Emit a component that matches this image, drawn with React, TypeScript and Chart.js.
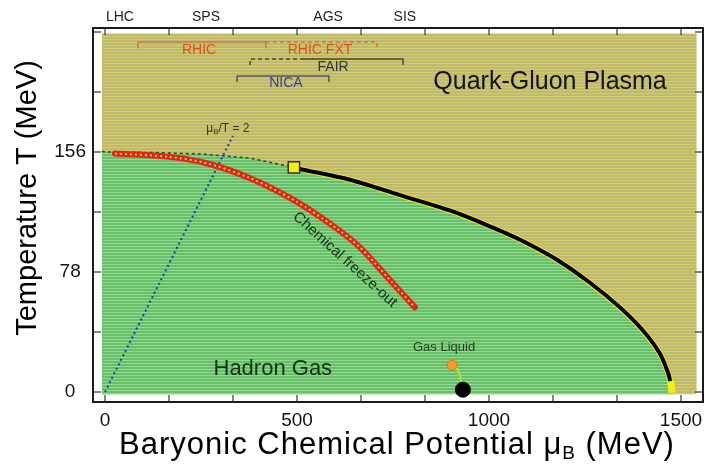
import React, { useEffect, useRef } from "react";
import { Chart, registerables } from "chart.js";

Chart.register(...registerables);

type P = { x: number; y: number };
const pts = (a: number[][]): P[] => a.map(([x, y]) => ({ x, y }));

// ---- axes ----
const X_MIN = -31.25;
const X_MAX = 1557.3;
const Y_MIN = -6.5;
const Y_MAX = 236.6;
const X_TICKS = [0, 166.67, 333.33, 500, 666.67, 833.33, 1000, 1166.67, 1333.33, 1500];
const X_LABELED = [0, 500, 1000, 1500];
const Y_TICKS = [0, 39, 78, 117, 156, 195, 234];
const Y_LABELED = [0, 78, 156];

// ---- filled regions (MeV) ----
const FILL_MU = [-8, 1541];
const FILL_T = [-1.5, 233];

// ---- phase diagram curves: [muB, T] ----
const CROSSOVER = [[-8, 156.5], [0, 156], [120, 155.7], [247, 154.7], [378, 152], [492, 146]];
const FIRST_ORDER = [[492, 146], [508, 145], [638, 138], [768, 128], [898, 118], [990, 109], [1081, 99], [1177, 86], [1263, 71], [1341, 55], [1401, 40], [1445, 25], [1467, 12], [1472, 7]];
const FIRST_ORDER_END = [[1473, 7], [1477, -0.5]];
const GREEN_TAIL = [[1477, 0], [1479, -1.5]];
const FREEZE_OUT = [[26, 155], [161, 153], [260, 149], [378, 139], [490, 125], [594, 108], [664, 94], [734, 75], [807, 55]];
const MU_OVER_T_2 = [[0, 0], [333, 166.5]];
const CRITICAL_POINT = [[492, 146]];
const GL_CRITICAL = [[904, 17.5]];
const NUCLEAR_MATTER = [[932, 1.5]];
const GL_LINE = [[904, 17.5], [916, 15.5], [924, 11], [928, 5], [930, 2]];

// ---- facility ranges ----
const RHIC = [[86, 223.5], [86, 227.5], [419, 227.5], [419, 223.5]];
const RHIC_FXT = [[419, 227.5], [708, 227.5], [708, 223.5]];
const FAIR_DASHED = [[378, 212.5], [378, 216.5], [510, 216.5]];
const FAIR_SOLID = [[510, 216.5], [776, 216.5], [776, 212.5]];
const NICA = [[344, 201.5], [344, 205.4], [583, 205.4], [583, 201.5]];

const ACCELERATORS = ["LHC", "SPS", "AGS", "SIS"];
const ACCELERATOR_MU = [39, 263, 581, 781];

const FONT = "Liberation Sans, Arial, sans-serif";

function stripes(ctx: CanvasRenderingContext2D, base: string, line: string, period: number) {
  const c = document.createElement("canvas");
  c.width = 4;
  c.height = period;
  const g = c.getContext("2d")!;
  g.fillStyle = base;
  g.fillRect(0, 0, 4, period);
  g.fillStyle = line;
  g.fillRect(0, 0, 4, 1);
  return ctx.createPattern(c, "repeat")!;
}

const decor = {
  id: "decor",
  afterDatasetsDraw(chart: any) {
    const { ctx, chartArea: a, scales } = chart;
    const x = scales.x;
    const y = scales.y;
    const X = (v: number) => x.getPixelForValue(v);
    const Y = (v: number) => y.getPixelForValue(v);
    const seg = (x1: number, y1: number, x2: number, y2: number) => {
      ctx.beginPath();
      ctx.moveTo(x1, y1);
      ctx.lineTo(x2, y2);
      ctx.stroke();
    };
    ctx.save();
    // frame
    ctx.strokeStyle = "#1a1a1a";
    ctx.lineWidth = 2;
    ctx.strokeRect(a.left, a.top, a.right - a.left, a.bottom - a.top);
    // inner tick marks
    ctx.lineWidth = 1.2;
    ctx.strokeStyle = "#333";
    x.ticks.forEach((t: any) => {
      const px = X(t.value);
      seg(px, a.bottom, px, a.bottom - 7);
      seg(px, a.top, px, a.top + 7);
    });
    y.ticks.forEach((t: any) => {
      const py = Y(t.value);
      seg(a.left, py, a.left + 8, py);
      seg(a.right, py, a.right - 8, py);
    });

    ctx.textAlign = "center";
    ctx.textBaseline = "middle";
    // accelerators above the frame
    ctx.fillStyle = "#222";
    ctx.font = `14px ${FONT}`;
    ACCELERATORS.forEach((s, i) => ctx.fillText(s, X(ACCELERATOR_MU[i]), a.top - 11));

    // facility labels
    ctx.font = `14px ${FONT}`;
    ctx.fillStyle = "#e0501e";
    ctx.fillText("RHIC", X(245), Y(222.5));
    ctx.fillText("RHIC FXT", X(560), Y(222.5));
    ctx.fillStyle = "#333";
    ctx.fillText("FAIR", X(594), Y(211));
    ctx.fillStyle = "#3c3ca0";
    ctx.fillText("NICA", X(471), Y(200.5));

    // region labels
    ctx.fillStyle = "#111";
    ctx.font = `25px ${FONT}`;
    ctx.fillText("Quark-Gluon Plasma", X(1159), Y(201.5));
    ctx.fillStyle = "#15301a";
    ctx.font = `22px ${FONT}`;
    ctx.fillText("Hadron Gas", X(437), Y(15));

    // Gas Liquid
    ctx.fillStyle = "#234023";
    ctx.font = `13px ${FONT}`;
    ctx.fillText("Gas Liquid", X(883), Y(29));

    // muB/T = 2
    ctx.fillStyle = "#333";
    ctx.textAlign = "left";
    const m1 = "\u03bc";
    const m3 = "/T = 2";
    ctx.font = `12px ${FONT}`;
    const w1 = ctx.measureText(m1).width;
    const w3 = ctx.measureText(m3).width;
    ctx.font = `8px ${FONT}`;
    const w2 = ctx.measureText("B").width;
    const sx = X(320) - (w1 + w2 + w3) / 2;
    const sy = Y(171);
    ctx.font = `12px ${FONT}`;
    ctx.fillText(m1, sx, sy);
    ctx.font = `8px ${FONT}`;
    ctx.fillText("B", sx + w1, sy + 3);
    ctx.font = `12px ${FONT}`;
    ctx.fillText(m3, sx + w1 + w2, sy);

    // Chemical freeze-out (rotated)
    ctx.save();
    ctx.translate(X(625), Y(86));
    ctx.rotate((42 * Math.PI) / 180);
    ctx.textAlign = "center";
    ctx.fillStyle = "#1a2e1a";
    ctx.font = `15px ${FONT}`;
    ctx.fillText("Chemical freeze-out", 0, 0);
    ctx.restore();
    ctx.restore();
  },
  afterDraw(chart: any) {
    const { ctx } = chart;
    ctx.save();
    ctx.fillStyle = "#000";
    ctx.textBaseline = "middle";
    // y title
    ctx.save();
    ctx.translate(28, 198);
    ctx.rotate(-Math.PI / 2);
    ctx.textAlign = "center";
    ctx.font = `29px ${FONT}`;
    ctx.fillText("Temperature T (MeV)", 0, 0);
    ctx.restore();
    // x title with subscript
    ctx.textAlign = "left";
    try {
      (ctx as any).letterSpacing = "1px";
    } catch (e) {}
    const p1 = "Baryonic Chemical Potential \u03bc";
    const p3 = " (MeV)";
    ctx.font = `31px ${FONT}`;
    const w1 = ctx.measureText(p1).width;
    const w3 = ctx.measureText(p3).width;
    ctx.font = `19px ${FONT}`;
    const w2 = ctx.measureText("B").width;
    const cx = 397;
    const sx = cx - (w1 + w2 + w3) / 2;
    const sy = 445;
    ctx.font = `31px ${FONT}`;
    ctx.fillText(p1, sx, sy);
    ctx.font = `19px ${FONT}`;
    ctx.fillText("B", sx + w1, sy + 9);
    ctx.font = `31px ${FONT}`;
    ctx.fillText(p3, sx + w1 + w2, sy);
    try {
      (ctx as any).letterSpacing = "0px";
    } catch (e) {}
    ctx.restore();
  },
};

export default function App() {
  const ref = useRef<HTMLCanvasElement | null>(null);
  useEffect(() => {
    const canvas = ref.current!;
    const ctx = canvas.getContext("2d")!;
    const qgp = stripes(ctx, "#bfb973", "#d2cc64", 3);
    const hadron = stripes(ctx, "#66c166", "#96d696", 3);

    const line = (data: number[][], color: string, width: number, order: number, extra: any = {}) => ({
      data: pts(data),
      showLine: true,
      borderColor: color,
      borderWidth: width,
      pointRadius: 0,
      fill: false,
      order,
      tension: 0,
      ...extra,
    });

    const chart = new Chart(canvas, {
      type: "scatter",
      data: {
        datasets: [
          line([[FILL_MU[0], FILL_T[1]], [FILL_MU[1], FILL_T[1]]], "rgba(0,0,0,0)", 0, 20, {
            fill: { value: FILL_T[0] },
            backgroundColor: qgp,
          }),
          line([...CROSSOVER, ...FIRST_ORDER.slice(1), ...GREEN_TAIL], "rgba(0,0,0,0)", 0, 19, {
            fill: { value: FILL_T[0] },
            backgroundColor: hadron,
            tension: 0.3,
          }),
          line(CROSSOVER, "#2b452b", 1.5, 18, { borderDash: [3, 3] }),
          line(MU_OVER_T_2, "#1f3f9f", 2, 17, { borderDash: [2, 3] }),
          line(FREEZE_OUT, "#e2231a", 6, 16, { tension: 0.3, borderCapStyle: "round" }),
          line(FREEZE_OUT, "#f2d040", 2, 15, { tension: 0.3, borderDash: [2, 3] }),
          line(FIRST_ORDER, "#f0e428", 6, 14, { tension: 0.3 }),
          line(FIRST_ORDER, "#000000", 4, 13, { tension: 0.3 }),
          line(FIRST_ORDER_END, "#f5ef10", 7, 12),
          line(GL_LINE, "#bce030", 2, 11, { tension: 0.4 }),
          line(RHIC, "#c47a48", 1.5, 10),
          line(RHIC_FXT, "#c47a48", 1.5, 10, { borderDash: [4, 3] }),
          line(FAIR_DASHED, "#4a4a2a", 1.5, 10, { borderDash: [4, 3] }),
          line(FAIR_SOLID, "#4a4a2a", 1.5, 10),
          line(NICA, "#55557a", 1.5, 10),
          {
            data: pts(GL_CRITICAL),
            pointRadius: 5,
            pointBackgroundColor: "#f29a30",
            pointBorderColor: "#e07818",
            pointBorderWidth: 1,
            order: 3,
          },
          {
            data: pts(NUCLEAR_MATTER),
            pointRadius: 7.5,
            pointBackgroundColor: "#000",
            pointBorderColor: "#000",
            order: 2,
          },
          {
            data: pts(CRITICAL_POINT),
            pointStyle: "rect",
            pointRadius: 8,
            pointBackgroundColor: "#f6f000",
            pointBorderColor: "#333",
            pointBorderWidth: 1.5,
            order: 1,
          },
        ] as any,
      },
      options: {
        animation: false,
        responsive: false,
        events: [],
        layout: { autoPadding: false, padding: { left: 0, right: 2, top: 28, bottom: 0 } },
        plugins: { legend: { display: false }, tooltip: { enabled: false } },
        scales: {
          x: {
            type: "linear",
            min: X_MIN,
            max: X_MAX,
            grid: { display: false },
            border: { display: false },
            afterBuildTicks: (s: any) => {
              s.ticks = X_TICKS.map((v) => ({ value: v }));
            },
            afterFit: (s: any) => {
              s.height = 68;
              s.paddingLeft = 0;
              s.paddingRight = 0;
            },
            ticks: {
              autoSkip: false,
              maxRotation: 0,
              padding: -1,
              color: "#111",
              font: { family: FONT, size: 19 },
              callback: (v: any) => {
                const m = X_LABELED.find((l) => Math.abs(l - Number(v)) < 0.5);
                return m === undefined ? "" : String(m);
              },
            },
          },
          y: {
            type: "linear",
            min: Y_MIN,
            max: Y_MAX,
            grid: { display: false },
            border: { display: false },
            afterBuildTicks: (s: any) => {
              s.ticks = Y_TICKS.map((v) => ({ value: v }));
            },
            afterFit: (s: any) => {
              s.width = 93;
              s.paddingTop = 0;
              s.paddingBottom = 0;
            },
            ticks: {
              autoSkip: false,
              padding: -1,
              crossAlign: "center",
              color: "#111",
              font: { family: FONT, size: 19 },
              callback: (v: any) => (Y_LABELED.includes(Number(v)) ? String(v) : ""),
            },
          },
        },
      } as any,
      plugins: [decor],
    });
    return () => chart.destroy();
  }, []);

  return (
    <div style={{ position: "fixed", left: 0, top: 0, width: 705, height: 470, background: "#fff" }}>
      <canvas ref={ref} width={705} height={470} style={{ display: "block" }} />
    </div>
  );
}
